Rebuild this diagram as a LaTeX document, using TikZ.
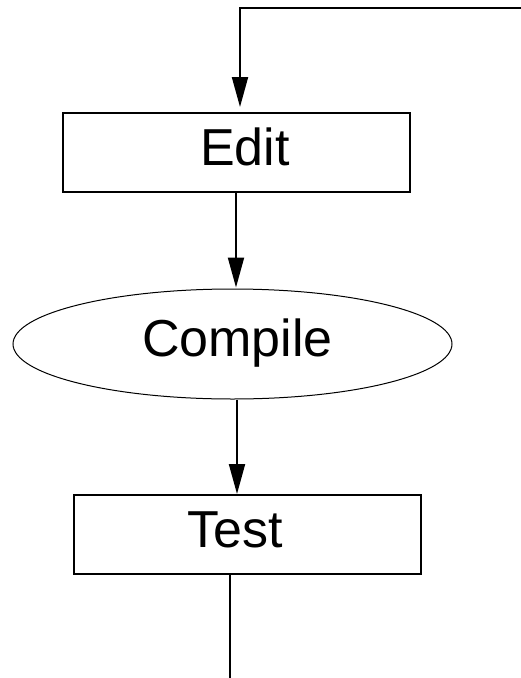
\documentclass[tikz,border=0pt]{standalone}
\usepackage{fontspec}
\setmainfont{Liberation Sans}
\usetikzlibrary{arrows.meta,shapes.geometric}
\begin{document}
\begin{tikzpicture}[x=1pt,y=-1pt,
  every node/.style={font=\fontsize{52}{60}\selectfont, inner sep=0pt, text height=38pt, text depth=13pt},
  boxnode/.style={draw, line width=2pt, rectangle, minimum width=347pt, minimum height=79pt},
  ellnode/.style={draw, line width=1pt, ellipse, minimum width=439pt, minimum height=110pt},
  flow/.style={line width=2pt, -{Triangle[length=30pt,width=16pt]}},
  plain/.style={line width=2pt}]
\useasboundingbox (0,0) rectangle (521,678);
\node[boxnode] (edit) at (236.5,152.5) {\hspace*{17pt}Edit};
\node[ellnode] (compile) at (232.5,344) {\hspace*{10pt}Compile};
\node[boxnode] (test) at (247,534.5) {Test\hspace*{23pt}};
\coordinate (tr) at (521,8);
\coordinate (tl) at (240,8);
\coordinate (a1) at (236,0);
\coordinate (a2) at (237,0);
\coordinate (bot) at (230,678);
\draw[flow, shorten >=5pt] (tr) -- (tl) -- (tl |- edit.north);
\draw[flow, shorten >=1pt] (edit.south -| a1) -- (compile.north -| a1);
\draw[flow] (compile.south -| a2) -- (test.north -| a2);
\draw[plain] (test.south -| bot) -- (bot);
\end{tikzpicture}
\end{document}
